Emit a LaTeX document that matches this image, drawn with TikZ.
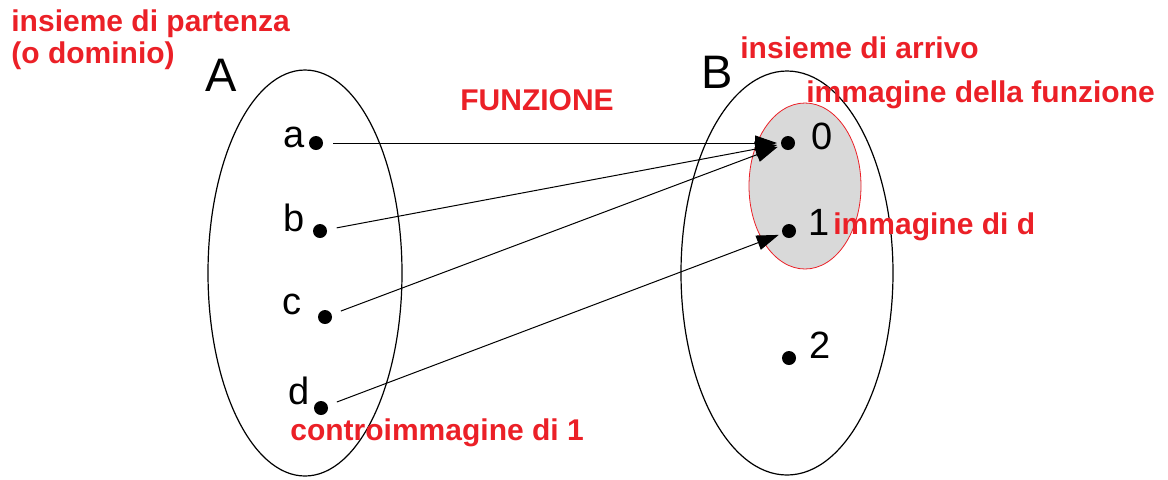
\documentclass[tikz,border=0pt]{standalone}
\usepackage{fontspec}
\setmainfont{Liberation Sans}
\usetikzlibrary{arrows.meta,positioning,shapes.geometric}
\definecolor{notered}{RGB}{235,32,39}
\definecolor{imgfill}{RGB}{217,217,217}

\tikzset{
  setbox/.style={draw,ellipse,inner sep=0pt,line width=0.6pt},
  elt/.style={circle,fill,inner sep=0pt,minimum size=7pt,outer sep=2pt},
  eltname/.style={inner sep=0pt,font=\fontsize{19}{22}\selectfont},
  setname/.style={inner sep=0pt,font=\fontsize{23.5}{28}\selectfont},
  note/.style={inner sep=0pt,text=notered,align=left,
    font=\bfseries\fontsize{15}{16}\selectfont},
  maps/.style={-{Triangle[length=11pt,width=7.5pt]},line width=0.5pt,shorten <=3pt},
}

\begin{document}
\begin{tikzpicture}[x=0.5pt,y=-0.5pt]
  \useasboundingbox (0,0) rectangle (1168,479);
  % the two sets and the image
  \node[setbox,minimum width=97pt,minimum height=203pt] (A) at (305,273) {};
  \node[setbox,minimum width=106pt,minimum height=202pt] (B) at (787,273) {};
  \node[setbox,draw=notered,fill=imgfill,line width=0.4pt,
    minimum width=56pt,minimum height=83pt] (img) at (805,186) {};
  \node[setname] (nameA) at (221,75) {A};
  \node[setname] (nameB) at (717,72) {B};

  % elements
  \foreach \n/\x/\y/\lx/\ly in {a/316/143/294/137,b/320/231/294/218,
      c/325/317/292/304,d/321/408/299/391}{
    \node[elt] (\n) at (\x,\y) {};
    \node[eltname] (l\n) at (\lx,\ly) {\n};
  }
  \foreach \n/\x/\y/\lx/\ly in {0/788/143/822/136,1/789/231/819/222,2/789/358/820/345}{
    \node[elt] (e\n) at (\x,\y) {};
    \node[eltname] (le\n) at (\lx,\ly) {\n};
  }

  % the function
  \draw[maps] (a) -- (e0);
  \draw[maps] (b) -- (e0);
  \draw[maps] (c) -- (e0);
  \draw[maps] (d) -- (e1);

  % notes
  \node[note,anchor=base west] (dom) at (11,63) {insieme di partenza\\(o dominio)};
  \node[note,anchor=base west] (fun) at (460,110) {FUNZIONE};
  \node[note,anchor=base west] (cod) at (740,58) {insieme di arrivo};
  \node[note,anchor=base west] (imf) at (806,102) {immagine della funzione};
  \node[note,anchor=base west] (imd) at (833,234) {immagine di d};
  \node[note,anchor=base west] (pre) at (290,440) {controimmagine di 1};
\end{tikzpicture}
\end{document}
